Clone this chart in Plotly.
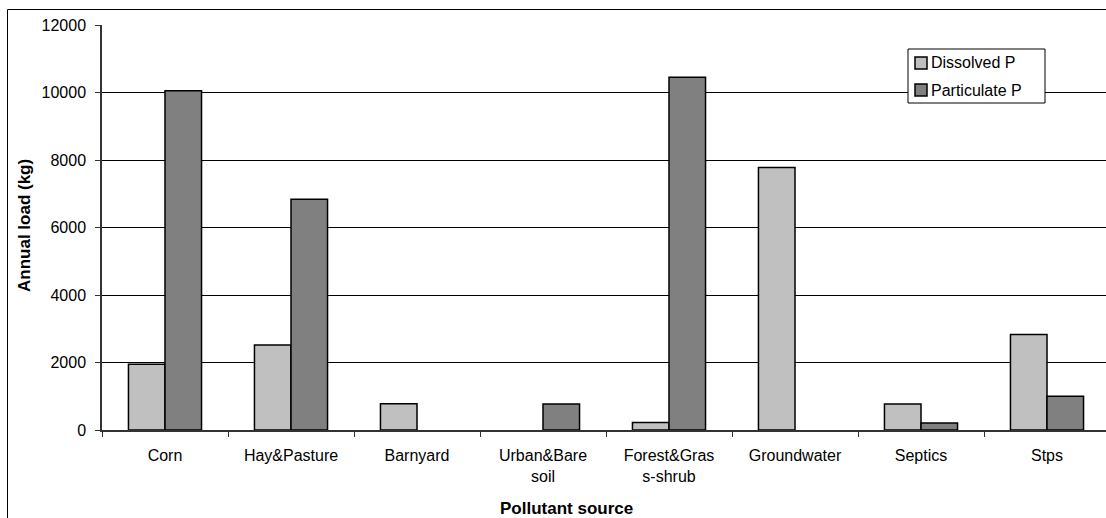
import plotly.graph_objects as go

# Annual phosphorus loads by pollutant source (None = no load reported)
sources = ["Corn", "Hay&Pasture", "Barnyard", "Urban&Bare<br>soil",
           "Forest&Gras<br>s-shrub", "Groundwater", "Septics", "Stps"]
dissolved_p = [1950, 2520, 780, None, 220, 7780, 770, 2830]
particulate_p = [10050, 6840, None, 770, 10450, None, 210, 1000]
y_ticks = [0, 2000, 4000, 6000, 8000, 10000, 12000]
series_names = ["Dissolved P", "Particulate P"]
series_colors = ["#C0C0C0", "#808080"]

FONT = "Liberation Sans, Arial, sans-serif"
W, H = 1106, 518
ML, MR, MT, MB = 102, 0, 25, 88
plot_w = W - ML - MR
plot_h = H - MT - MB
cat_px = 126  # width of one category slot in pixels


def px_x(p):
    return (p - ML) / plot_w


def px_y(p):
    return (H - MB - p) / plot_h


fig = go.Figure()
for name, vals, col in zip(series_names, [dissolved_p, particulate_p], series_colors):
    fig.add_trace(go.Bar(
        x=sources, y=vals, name=name, showlegend=False,
        marker=dict(color=col, line=dict(color="black", width=1.5)),
    ))

# outer chart frame and boxed legend in the upper right of the plot area
shapes = [
    dict(type="rect", xref="paper", yref="paper",
         x0=px_x(7.5), x1=px_x(W + 20), y0=px_y(H + 20), y1=px_y(9.5),
         line=dict(color="black", width=1), layer="below"),
    dict(type="rect", xref="paper", yref="paper",
         x0=px_x(908), x1=px_x(1045), y0=px_y(103), y1=px_y(49),
         fillcolor="white", line=dict(color="black", width=1), layer="above"),
]
annotations = []
for i, (name, col) in enumerate(zip(series_names, series_colors)):
    cy = 63 + 27 * i
    shapes.append(dict(type="rect", xref="paper", yref="paper",
                       x0=px_x(915), x1=px_x(927), y0=px_y(cy + 6), y1=px_y(cy - 6),
                       fillcolor=col, line=dict(color="black", width=1.5),
                       layer="above"))
    annotations.append(dict(text=name, xref="paper", yref="paper",
                            x=px_x(929), y=px_y(cy), xanchor="left",
                            yanchor="middle", showarrow=False,
                            font=dict(family=FONT, size=16, color="black")))

annotations += [
    dict(text="<b>Annual load (kg)</b>", textangle=-90,
         xref="paper", yref="paper", x=px_x(24), y=px_y(226),
         xanchor="center", yanchor="middle", showarrow=False,
         font=dict(family=FONT, size=17, color="black")),
    dict(text="<b>Pollutant source</b>",
         xref="paper", yref="paper", x=px_x(566), y=px_y(508),
         xanchor="center", yanchor="middle", showarrow=False,
         font=dict(family=FONT, size=17, color="black")),
]

x_end = -0.5 + plot_w / cat_px

fig.update_layout(
    width=W, height=H,
    margin=dict(l=ML, r=MR, t=MT, b=MB),
    paper_bgcolor="white", plot_bgcolor="white",
    barmode="group", bargap=0.42, bargroupgap=0,
    font=dict(family=FONT, size=16, color="black"),
    showlegend=False,
    xaxis=dict(
        type="category", range=[-0.5, x_end],
        showline=True, linecolor="#333333", linewidth=1.5,
        ticks="outside", ticklen=5, tickcolor="#333333", tickwidth=1,
        tickson="boundaries", showgrid=False,
        tickfont=dict(family=FONT, size=16, color="black"),
        ticklabelstandoff=10,
    ),
    yaxis=dict(
        range=[0, 12000], tickvals=y_ticks, ticktext=[str(v) for v in y_ticks],
        showline=True, linecolor="#333333", linewidth=1.5,
        ticks="outside", ticklen=5, tickcolor="#333333", tickwidth=1,
        showgrid=True, gridcolor="black", gridwidth=1,
        tickfont=dict(family=FONT, size=16, color="black"),
        zeroline=False, ticklabelstandoff=6,
    ),
    annotations=annotations,
    shapes=shapes,
)

fig.write_html("out.html")
